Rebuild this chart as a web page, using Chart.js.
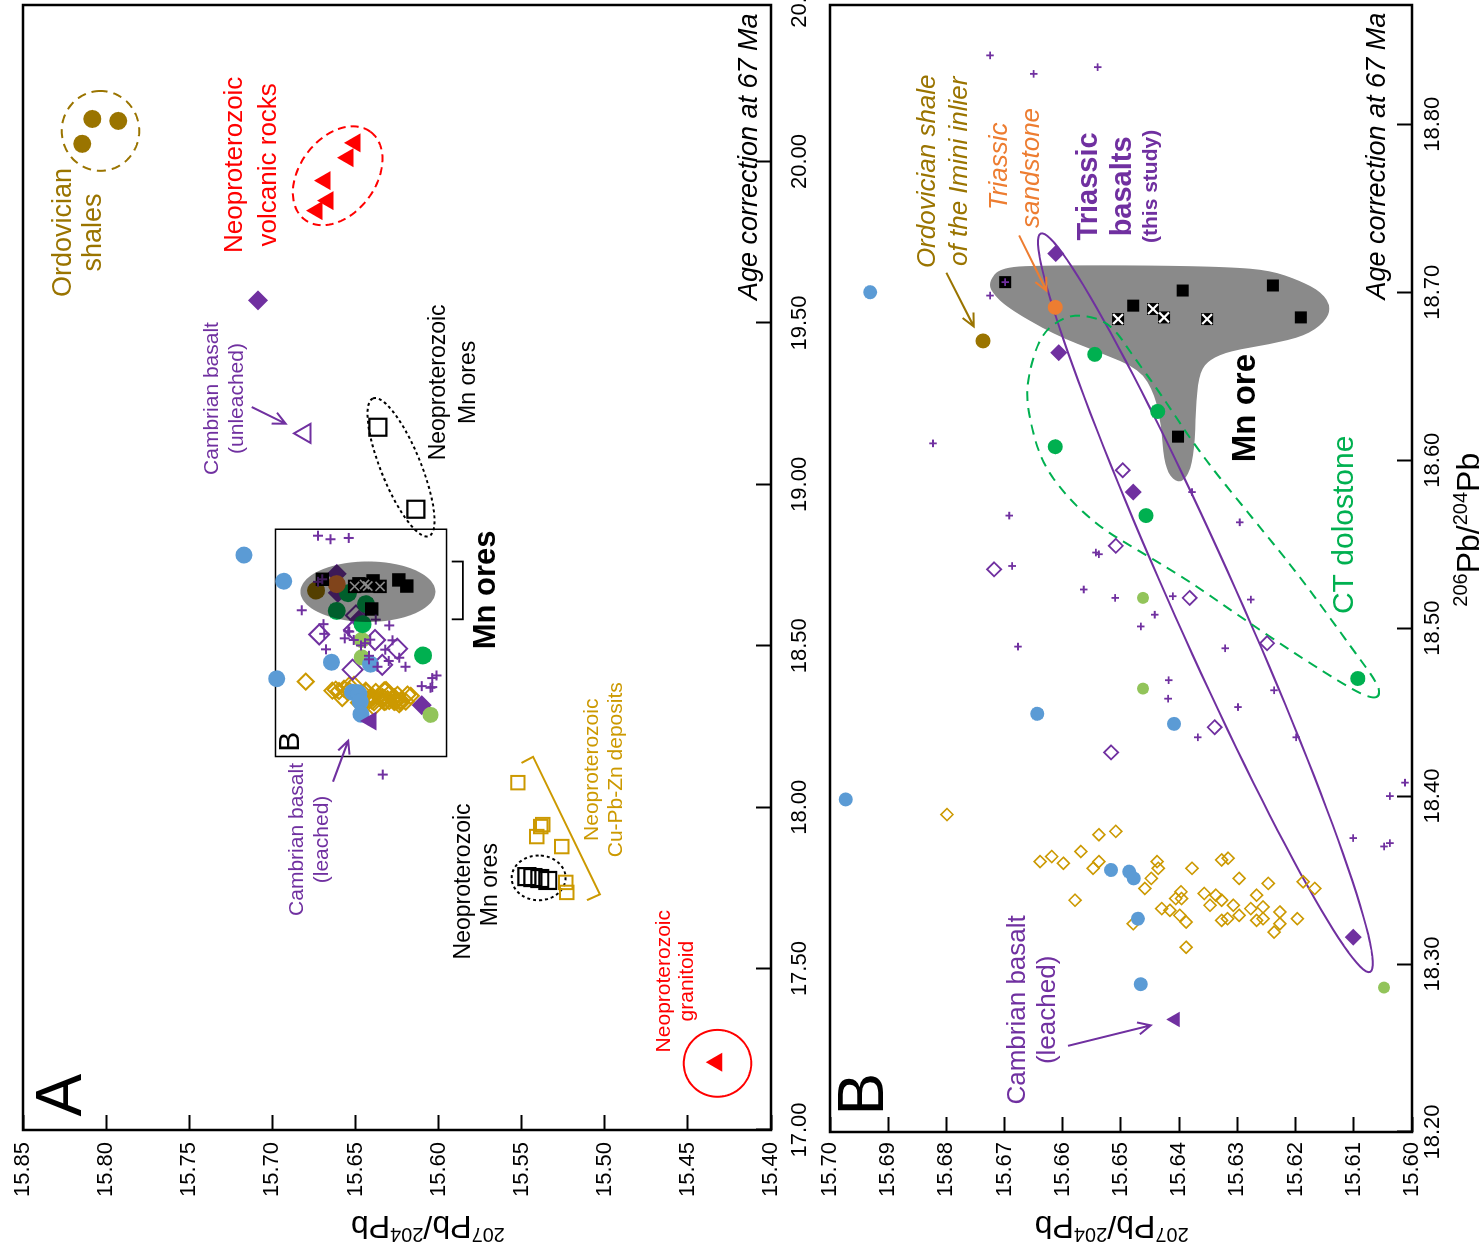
<!DOCTYPE html>
<html lang="en">
<head>
<meta charset="UTF-8">
<title>Pb isotope diagrams</title>
<script src="https://cdn.jsdelivr.net/npm/chart.js"></script>
<style>
    html, body { margin: 0; padding: 0; background: #fff; overflow: hidden; }
    /* the figure is drawn upright, then turned a quarter turn to the left */
    #figure {
        position: absolute; left: 0; top: 0;
        width: 1247px; height: 1482px;
        transform-origin: 0 0;
        transform: translateY(1247px) rotate(-90deg);
    }
    #figure canvas { position: absolute; left: 0; }
    #chartA { top: 0; }
    #chartB { top: 818px; }
</style>
</head>
<body>
<div id="figure">
    <canvas id="chartA" width="1247" height="818"></canvas>
    <canvas id="chartB" width="1247" height="664"></canvas>
</div>

<script>
// ---- data: [206Pb/204Pb, 207Pb/204Pb] ----
const purpleCrosses = [
    [18.841, 15.6725], [18.830, 15.6650], [18.834, 15.6540], [18.698, 15.6725],
    [18.706, 15.6699], [18.610, 15.6823], [18.567, 15.6692], [18.545, 15.6543],
    [18.544, 15.6538], [18.537, 15.6687], [18.523, 15.6564], [18.518, 15.6510],
    [18.519, 15.6411], [18.508, 15.6442], [18.501, 15.6466], [18.517, 15.6277],
    [18.489, 15.6677], [18.488, 15.6321], [18.469, 15.6418], [18.458, 15.6419],
    [18.463, 15.6237], [18.453, 15.6299], [18.435, 15.6368], [18.435, 15.6199],
    [18.408, 15.6012], [18.400, 15.6038], [18.375, 15.6101], [18.370, 15.6048],
    [18.372, 15.6038], [18.581, 15.6378], [18.563, 15.6296], [18.101, 15.6335]
];
const mnOre = [
    [18.706, 15.6699], [18.692, 15.6479], [18.701, 15.6394],
    [18.704, 15.6239], [18.685, 15.6191], [18.614, 15.6402]
];
const mnOreCrossed = [[18.684, 15.6505], [18.690, 15.6445], [18.685, 15.6426], [18.684, 15.6352]];
const cambrianLeached = [[18.267, 15.6407]];
const cambrianUnleached = [[19.158, 15.6803]];
const triassicSandstone = [[18.691, 15.6613]];
const ordovicianShale = [[18.671, 15.6737], [20.055, 15.8144], [20.132, 15.8083], [20.126, 15.7927]];
const blueCircles = [
    [18.700, 15.6931], [18.398, 15.6973], [18.449, 15.6644], [18.443, 15.6409], [18.356, 15.6517],
    [18.355, 15.6486], [18.351, 15.6478], [18.327, 15.6471], [18.288, 15.6466], [18.781, 15.7170]
];
const ctDolostone = [[18.663, 15.6545], [18.629, 15.6437], [18.608, 15.6613], [18.567, 15.6457], [18.470, 15.6093]];
const limeCircles = [[18.518, 15.6462], [18.464, 15.6462], [18.286, 15.6048]];
const basaltFilled = [[18.723, 15.6612], [18.664, 15.6607], [18.581, 15.6479], [18.316, 15.6101], [19.570, 15.7086]];
const basaltOpen = [
    [18.594, 15.6497], [18.549, 15.6509], [18.535, 15.6718], [18.518, 15.6382],
    [18.491, 15.6249], [18.441, 15.6339], [18.426, 15.6517]
];
const goldDiamonds = [
    [18.389, 15.6799], [18.377, 15.6538], [18.379, 15.6509], [18.361, 15.6639], [18.364, 15.6619],
    [18.360, 15.6599], [18.367, 15.6569], [18.361, 15.6538], [18.357, 15.6548], [18.338, 15.6579],
    [18.361, 15.6438], [18.357, 15.6436], [18.351, 15.6448], [18.345, 15.6459], [18.357, 15.6378],
    [18.362, 15.6327], [18.363, 15.6316], [18.351, 15.6297], [18.348, 15.6247], [18.349, 15.6187],
    [18.345, 15.6167], [18.343, 15.6397], [18.339, 15.6406], [18.339, 15.6396], [18.342, 15.6357],
    [18.341, 15.6337], [18.338, 15.6327], [18.335, 15.6307], [18.333, 15.6430], [18.332, 15.6416],
    [18.329, 15.6399], [18.325, 15.6388], [18.335, 15.6347], [18.333, 15.6277], [18.341, 15.6267],
    [18.334, 15.6256], [18.331, 15.6227], [18.329, 15.6297], [18.326, 15.6327], [18.327, 15.6317],
    [18.326, 15.6267], [18.327, 15.6256], [18.324, 15.6227], [18.319, 15.6237], [18.327, 15.6197],
    [18.324, 15.6479], [18.310, 15.6388]
];
const volcanicRocks = [[19.848, 15.6731], [19.879, 15.6665], [19.941, 15.6683], [20.012, 15.6545], [20.058, 15.6503]];
const granitoid = [[17.210, 15.4327]];
const neoMnOres = [
    [19.177, 15.6365], [18.923, 15.6136], [17.785, 15.5469],
    [17.782, 15.5433], [17.779, 15.5391], [17.773, 15.5343]
];
const cuPbZn = [
    [18.076, 15.5523], [17.946, 15.5373], [17.940, 15.5385], [17.909, 15.5409],
    [17.878, 15.5259], [17.767, 15.5235], [17.736, 15.5229]
];

// ---- axes ----
const rangeA = { x: [17.0, 20.485], y: [15.40, 15.85] };
const rangeB = { x: [18.20, 18.871], y: [15.60, 15.70] };
const ticksA206 = [17.0, 17.5, 18.0, 18.5, 19.0, 19.5, 20.0, 20.5];
const ticksA207 = [15.40, 15.45, 15.50, 15.55, 15.60, 15.65, 15.70, 15.75, 15.80, 15.85];
const ticksB206 = [18.2, 18.3, 18.4, 18.5, 18.6, 18.7, 18.8];
const ticksB207 = [15.60, 15.61, 15.62, 15.63, 15.64, 15.65, 15.66, 15.67, 15.68, 15.69, 15.70];

// ---- colours ----
const purple = '#7030A0', blue = '#5B9BD5', green = '#00B050', lime = '#92C45A';
const brown = '#9A7400', gold = '#CC9900', orange = '#ED7D31', red = '#FF0000', grey = '#8A8A8A';
const FAMILY = '"Liberation Sans", Arial, Helvetica, sans-serif';
const font = (size, style = '') => (style + ' ' + size + 'px ' + FAMILY).trim();

// first entry is drawn on top; r and w are [panel A, panel B]
const seriesList = [
    { data: purpleCrosses, style: 'cross', fill: purple, r: [5, 3.8], w: [2, 1.8] },
    { data: mnOreCrossed, style: 'crossRot', fill: '#fff', r: [6.5, 7], w: [1.6, 2.2] },
    { data: mnOreCrossed, style: 'rect', fill: '#000', r: [9.5, 8.5] },
    { data: mnOre, style: 'rect', fill: '#000', r: [9.5, 8.5] },
    { data: cambrianLeached, style: 'triangle', fill: purple, r: [11, 9] },
    { data: cambrianUnleached, style: 'triangle', fill: 'transparent', stroke: purple, r: [11, 9], w: [2, 2] },
    { data: triassicSandstone, style: 'circle', fill: orange, r: [9, 7.5] },
    { data: ordovicianShale, style: 'circle', fill: brown, r: [9, 7.5] },
    { data: blueCircles, style: 'circle', fill: blue, r: [8.5, 7] },
    { data: ctDolostone, style: 'circle', fill: green, r: [9, 7.5] },
    { data: limeCircles, style: 'circle', fill: lime, r: [8, 6] },
    { data: basaltFilled, style: 'rectRot', fill: purple, r: [10, 8.5] },
    { data: basaltOpen, style: 'rectRot', fill: 'transparent', stroke: purple, r: [10, 7], w: [2, 1.8] },
    { data: goldDiamonds, style: 'rectRot', fill: 'transparent', stroke: gold, r: [8, 6], w: [2, 1.6] },
    { data: volcanicRocks, style: 'triangle', fill: red, r: [11, 9] },
    { data: granitoid, style: 'triangle', fill: red, r: [11, 9] },
    { data: neoMnOres, style: 'rect', fill: 'transparent', stroke: '#000', r: [12, 9], w: [2.2, 2] },
    { data: cuPbZn, style: 'rect', fill: 'transparent', stroke: gold, r: [9.5, 8], w: [2, 2] }
];

function buildDatasets(p) {
    return seriesList.map(s => ({
        data: s.data.map(([x, y]) => ({ x, y })),
        pointStyle: s.style,
        pointRadius: s.r[p],
        pointBackgroundColor: s.fill,
        pointBorderColor: s.stroke || s.fill,
        pointBorderWidth: s.w ? s.w[p] : 0
    }));
}

// ---- annotations (placed in data units) ----
const ringsA = [
    { c: [20.095, 15.8034], u: [0.1237, 0], v: [0, 0.0233], color: brown, dash: [9, 6] },
    { c: [19.956, 15.6607], u: [0.1360, -0.0198], v: [-0.0705, -0.0183], color: red, dash: [8, 5] },
    { c: [19.053, 15.6226], u: [0.2133, 0.0168], v: [0.0232, -0.0111], color: '#000', dash: [3, 3] },
    { c: [17.781, 15.5398], u: [0.0693, 0], v: [0, 0.0162], color: '#000', dash: [3, 3] },
    { c: [17.2065, 15.4322], u: [0.1036, 0], v: [0, 0.0203], color: red, dash: [] }
];
const mnFieldA = { c: [18.6675, 15.6425], u: [0.0937, 0], v: [0, 0.0406] };
const insetBox = [[18.157, 15.6981], [18.861, 15.5952]];
const goldBracket = [[18.137, 15.5501], [18.156, 15.5431], [17.730, 15.5030], [17.712, 15.5107]];
const mnBracket = [[18.761, 15.5921], [18.761, 15.5854], [18.582, 15.5854], [18.582, 15.5921]];

const basaltLoop = { c: [18.5151, 15.6355], u: [0.2198, 0.0283], v: [0.0080, -0.0052] };
const dolostoneLoop = [
    [18.460, 15.6055], [18.467, 15.6059], [18.487, 15.6101], [18.531, 15.6193], [18.565, 15.6273],
    [18.604, 15.6364], [18.640, 15.6433], [18.662, 15.6479], [18.682, 15.6519], [18.687, 15.6571],
    [18.684, 15.6605], [18.674, 15.6639], [18.650, 15.6660], [18.632, 15.6662], [18.600, 15.6639],
    [18.578, 15.6593], [18.560, 15.6536], [18.548, 15.6479], [18.529, 15.6387], [18.507, 15.6296],
    [18.483, 15.6193], [18.463, 15.6101], [18.458, 15.6067]
];
const mnFieldB = [
    [18.706, 15.6727], [18.715, 15.6708], [18.716, 15.6622], [18.716, 15.6450], [18.715, 15.6313],
    [18.713, 15.6244], [18.707, 15.6193], [18.700, 15.6155], [18.691, 15.6139], [18.682, 15.6150],
    [18.674, 15.6184], [18.669, 15.6244], [18.665, 15.6313], [18.660, 15.6347], [18.653, 15.6364],
    [18.636, 15.6371], [18.612, 15.6373], [18.594, 15.6380], [18.586, 15.6397], [18.590, 15.6416],
    [18.600, 15.6426], [18.621, 15.6431], [18.639, 15.6442], [18.654, 15.6467], [18.664, 15.6536],
    [18.675, 15.6617], [18.691, 15.6696], [18.700, 15.6722]
];

const notesA = [
    { text: 'Ordovician', at: [19.780, 15.8258], size: 27, color: brown },
    { text: 'shales', at: [19.780, 15.8077], size: 27, color: brown },
    { text: 'Neoproterozoic', at: [19.990, 15.7224], size: 26, color: red },
    { text: 'volcanic rocks', at: [19.990, 15.7020], size: 26, color: red },
    { text: 'Cambrian basalt', at: [19.266, 15.7361], size: 21, color: purple },
    { text: '(unleached)', at: [19.266, 15.7211], size: 21, color: purple },
    { text: 'Neoproterozoic', at: [19.316, 15.5998], size: 23, color: '#000' },
    { text: 'Mn ores', at: [19.316, 15.5818], size: 23, color: '#000' },
    { text: 'Mn ores', at: [18.673, 15.5710], size: 31, color: '#000', style: 'bold' },
    { text: 'Cambrian basalt', at: [17.900, 15.6851], size: 21, color: purple },
    { text: '(leached)', at: [17.900, 15.6701], size: 21, color: purple },
    { text: 'Neoproterozoic', at: [17.770, 15.5848], size: 23, color: '#000' },
    { text: 'Mn ores', at: [17.760, 15.5686], size: 23, color: '#000' },
    { text: 'Neoproterozoic', at: [18.116, 15.5078], size: 21, color: gold },
    { text: 'Cu-Pb-Zn deposits', at: [18.116, 15.4934], size: 21, color: gold },
    { text: 'Neoproterozoic', at: [17.461, 15.4640], size: 21, color: red },
    { text: 'granitoid', at: [17.461, 15.4502], size: 21, color: red },
    { text: 'Age correction at 67 Ma', at: [20.015, 15.4129], size: 27, color: '#000', style: 'italic' },
    { text: 'A', at: [17.108, 15.8258], size: 64, color: '#000' },
    { text: 'B', at: [18.203, 15.6888], size: 30, color: '#000' }
];
const notesB = [
    { text: 'Ordovician shale', at: [18.772, 15.6832], size: 26, color: brown, style: 'italic' },
    { text: 'of the Imini inlier', at: [18.772, 15.6777], size: 26, color: brown, style: 'italic' },
    { text: 'Triassic', at: [18.775, 15.6708], size: 26, color: orange, style: 'italic' },
    { text: 'sandstone', at: [18.774, 15.6653], size: 26, color: orange, style: 'italic' },
    { text: 'Triassic', at: [18.763, 15.6555], size: 29, color: purple, style: 'bold' },
    { text: 'basalts', at: [18.763, 15.6497], size: 29, color: purple, style: 'bold' },
    { text: '(this study)', at: [18.763, 15.6448], size: 21, color: purple, style: 'bold' },
    { text: 'Mn ore', at: [18.631, 15.6285], size: 33, color: '#000', style: 'bold' },
    { text: 'CT dolostone', at: [18.5615, 15.6115], size: 30, color: green },
    { text: 'Cambrian basalt', at: [18.2727, 15.6677], size: 26, color: purple },
    { text: '(leached)', at: [18.2727, 15.6625], size: 26, color: purple },
    { text: 'Age correction at 67 Ma', at: [18.781, 15.6059], size: 27, color: '#000', style: 'italic' },
    { text: 'B', at: [18.2226, 15.6940], size: 64, color: '#000' }
];
const arrowsA = [
    { from: [19.2396, 15.7124], to: [19.188, 15.6920], color: purple },
    { from: [18.079, 15.6635], to: [18.206, 15.6543], color: purple }
];
const arrowsB = [
    { from: [18.7116, 15.6800], to: [18.6796, 15.6753], color: brown },
    { from: [18.7338, 15.6675], to: [18.7009, 15.6628], color: orange },
    { from: [18.2513, 15.6591], to: [18.2635, 15.6449], color: purple }
];

// ---- drawing helpers ----
function toPx(chart, p) {
    return [chart.scales.x.getPixelForValue(p[0]), chart.scales.y.getPixelForValue(p[1])];
}

function ellipsePoints(chart, e) {
    const pts = [];
    for (let i = 0; i < 120; i++) {
        const t = i / 120 * Math.PI * 2, c = Math.cos(t), s = Math.sin(t);
        pts.push(toPx(chart, [e.c[0] + e.u[0] * c + e.v[0] * s, e.c[1] + e.u[1] * c + e.v[1] * s]));
    }
    return pts;
}

function polyPath(ctx, pts, closed) {
    ctx.beginPath();
    pts.forEach((p, i) => i ? ctx.lineTo(p[0], p[1]) : ctx.moveTo(p[0], p[1]));
    if (closed) ctx.closePath();
}

// smooth closed outline through midpoints
function smoothPath(ctx, pts) {
    const n = pts.length;
    const mid = (a, b) => [(a[0] + b[0]) / 2, (a[1] + b[1]) / 2];
    const start = mid(pts[n - 1], pts[0]);
    ctx.beginPath();
    ctx.moveTo(start[0], start[1]);
    for (let i = 0; i < n; i++) {
        const m = mid(pts[i], pts[(i + 1) % n]);
        ctx.quadraticCurveTo(pts[i][0], pts[i][1], m[0], m[1]);
    }
    ctx.closePath();
}

function strokeIt(ctx, color, width, dash) {
    ctx.save();
    ctx.strokeStyle = color;
    ctx.lineWidth = width;
    ctx.setLineDash(dash || []);
    ctx.stroke();
    ctx.restore();
}

function drawArrow(chart, a) {
    const ctx = chart.ctx;
    const [x1, y1] = toPx(chart, a.from), [x2, y2] = toPx(chart, a.to);
    const ang = Math.atan2(y2 - y1, x2 - x1), head = 14;
    ctx.save();
    ctx.strokeStyle = a.color;
    ctx.lineWidth = 2;
    ctx.beginPath();
    ctx.moveTo(x1, y1);
    ctx.lineTo(x2, y2);
    ctx.moveTo(x2 - head * Math.cos(ang - 0.45), y2 - head * Math.sin(ang - 0.45));
    ctx.lineTo(x2, y2);
    ctx.lineTo(x2 - head * Math.cos(ang + 0.45), y2 - head * Math.sin(ang + 0.45));
    ctx.stroke();
    ctx.restore();
}

function drawNote(chart, n) {
    const ctx = chart.ctx;
    const [x, y] = toPx(chart, n.at);
    ctx.save();
    ctx.font = font(n.size, n.style || '');
    ctx.fillStyle = n.color;
    ctx.textAlign = 'center';
    ctx.textBaseline = 'middle';
    ctx.fillText(n.text, x, y);
    ctx.restore();
}

// "207Pb/204Pb" style title with superscript mass numbers
function isoTitle(ctx, x, y, mass, angle) {
    const parts = [[mass, font(20), -12], ['Pb/', font(32), 0], ['204', font(20), -12], ['Pb', font(32), 0]];
    ctx.save();
    ctx.translate(x, y);
    ctx.rotate(angle);
    ctx.fillStyle = '#000';
    ctx.textBaseline = 'alphabetic';
    ctx.textAlign = 'left';
    let w = 0;
    parts.forEach(p => { ctx.font = p[1]; w += ctx.measureText(p[0]).width; });
    let cx = -w / 2;
    parts.forEach(p => {
        ctx.font = p[1];
        ctx.fillText(p[0], cx, 12 + p[2]);
        cx += ctx.measureText(p[0]).width;
    });
    ctx.restore();
}

function frame(chart) {
    const a = chart.chartArea, ctx = chart.ctx;
    ctx.save();
    ctx.strokeStyle = '#000';
    ctx.lineWidth = 2.5;
    ctx.strokeRect(a.left, a.top, a.right - a.left, a.bottom - a.top);
    ctx.restore();
}

const panelAPlugin = {
    id: 'panelA',
    beforeDatasetsDraw(chart) {
        const ctx = chart.ctx;
        ringsA.forEach(r => {
            polyPath(ctx, ellipsePoints(chart, r), true);
            strokeIt(ctx, r.color, 2, r.dash);
        });
        polyPath(ctx, goldBracket.map(p => toPx(chart, p)), false);
        strokeIt(ctx, gold, 2);
        polyPath(ctx, mnBracket.map(p => toPx(chart, p)), false);
        strokeIt(ctx, '#000', 1.8);
        const [p, q] = insetBox.map(v => toPx(chart, v));
        ctx.save();
        ctx.strokeStyle = '#000';
        ctx.lineWidth = 1.5;
        ctx.strokeRect(p[0], p[1], q[0] - p[0], q[1] - p[1]);
        ctx.restore();
    },
    afterDatasetsDraw(chart) {
        const ctx = chart.ctx;
        // grey Mn-ore field laid over the points
        ctx.save();
        ctx.globalCompositeOperation = 'multiply';
        ctx.fillStyle = grey;
        polyPath(ctx, ellipsePoints(chart, mnFieldA), true);
        ctx.fill();
        ctx.restore();
        arrowsA.forEach(a => drawArrow(chart, a));
        notesA.forEach(n => drawNote(chart, n));
    },
    afterDraw(chart) {
        frame(chart);
        isoTitle(chart.ctx, 19, chart.scales.y.getPixelForValue(15.6064), '207', -Math.PI / 2);
    }
};

const panelBPlugin = {
    id: 'panelB',
    beforeDatasetsDraw(chart) {
        const ctx = chart.ctx;
        ctx.save();
        ctx.fillStyle = grey;
        smoothPath(ctx, mnFieldB.map(p => toPx(chart, p)));
        ctx.fill();
        ctx.restore();
        polyPath(ctx, ellipsePoints(chart, basaltLoop), true);
        strokeIt(ctx, purple, 2);
        smoothPath(ctx, dolostoneLoop.map(p => toPx(chart, p)));
        strokeIt(ctx, green, 2, [10, 7]);
    },
    afterDatasetsDraw(chart) {
        arrowsB.forEach(a => drawArrow(chart, a));
        notesB.forEach(n => drawNote(chart, n));
    },
    afterDraw(chart) {
        frame(chart);
        isoTitle(chart.ctx, 19, chart.scales.y.getPixelForValue(15.6516), '207', -Math.PI / 2);
        isoTitle(chart.ctx, chart.scales.x.getPixelForValue(18.5586), 649, '206', 0);
    }
};

function axis(range, values, pad, size, horizontal) {
    return {
        type: 'linear',
        bounds: 'data',
        min: range[0],
        max: range[1],
        afterBuildTicks: s => { s.ticks = values.map(v => ({ value: v })); },
        afterFit: s => {
            if (horizontal) s.height = size; else s.width = size;
            s.paddingLeft = 0; s.paddingRight = 0; s.paddingTop = 0; s.paddingBottom = 0;
        },
        border: { display: false },
        grid: {
            drawOnChartArea: false, drawTicks: true, tickLength: -15, tickWidth: 2,
            // no tick mark for a label that lies past the end of the axis
            tickColor: c => (c.tick && c.tick.value > range[1] ? 'rgba(0,0,0,0)' : '#000')
        },
        ticks: {
            autoSkip: false, maxRotation: 0, minRotation: 0, padding: pad, color: '#000',
            font: { family: FAMILY, size: 22 },
            callback: v => Number(v).toFixed(2)
        }
    };
}

function makeChart(id, p, range, t206, t207, padding, xPad, yPad, xSize, ySize, plugin) {
    return new Chart(document.getElementById(id), {
        type: 'scatter',
        data: { datasets: buildDatasets(p) },
        options: {
            responsive: false,
            animation: false,
            events: [],
            layout: { padding, autoPadding: false },
            plugins: { legend: { display: false }, tooltip: { enabled: false } },
            scales: {
                x: axis(range.x, t206, xPad, xSize, true),
                y: axis(range.y, t207, yPad, ySize, false)
            }
        },
        plugins: [plugin]
    });
}

makeChart('chartA', 0, rangeA, ticksA206, ticksA207, { top: 23, right: 5, bottom: 0, left: 0 }, 31, 27, 47, 117, panelAPlugin);
makeChart('chartB', 1, rangeB, ticksB206, ticksB207, { top: 12, right: 5, bottom: 0, left: 0 }, 23, 25, 70, 115, panelBPlugin);
</script>
</body>
</html>
